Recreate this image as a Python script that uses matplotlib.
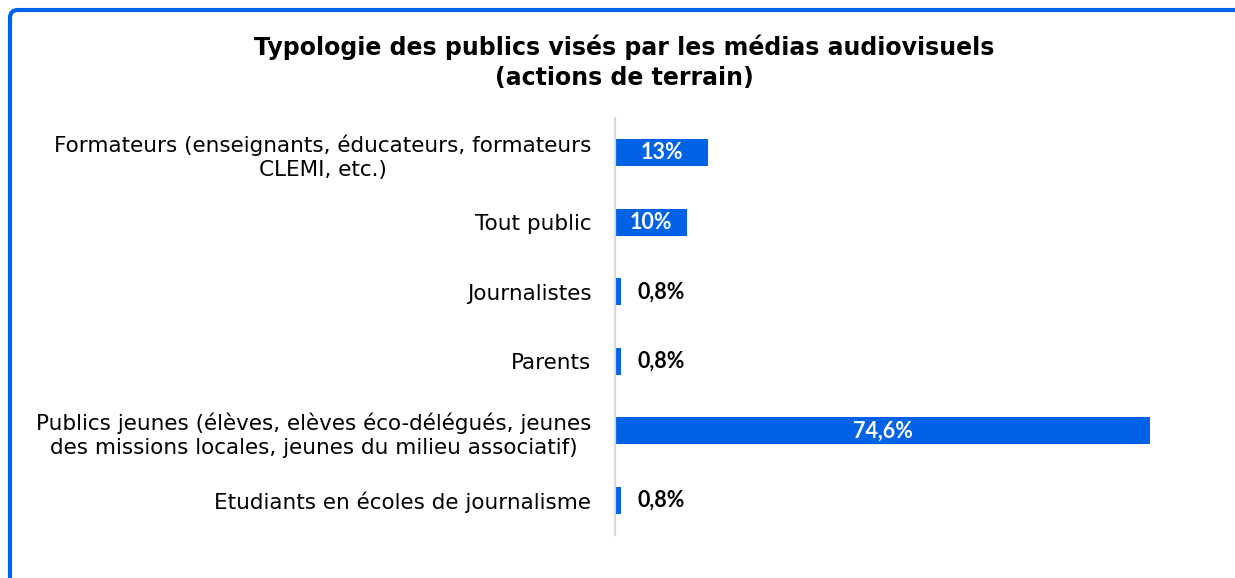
import numpy as np
import matplotlib.pyplot as plt
from matplotlib.patches import FancyBboxPatch
from matplotlib.transforms import IdentityTransform

# data
categories = [
    "Formateurs (enseignants, éducateurs, formateurs\nCLEMI, etc.)",
    "Tout public",
    "Journalistes",
    "Parents",
    "Publics jeunes (élèves, elèves éco-délégués, jeunes\ndes missions locales, jeunes du milieu associatif)",
    "Etudiants en écoles de journalisme",
]
values = [13, 10, 0.8, 0.8, 74.6, 0.8]
value_labels = ["13%", "10%", "0,8%", "0,8%", "74,6%", "0,8%"]

title = "Typologie des publics visés par les médias audiovisuels\n(actions de terrain)"
blue = "#0062E6"

W, H = 1235, 578
fig = plt.figure(figsize=(W / 100, H / 100), dpi=100)

# axes placed in pixel terms of the reference
left, right, top, bottom = 615, 1189, 118, 535
ax = fig.add_axes([left / W, 1 - bottom / H, (right - left) / W, (bottom - top) / H])

y = np.arange(len(categories))
ax.barh(y, values, height=0.39, color=blue)
ax.set_ylim(len(categories) - 0.5, -0.5)
ax.set_xlim(0, 80)

ax.set_yticks(y)
ax.set_yticklabels(categories, fontsize=15.5, family="DejaVu Sans",
                   multialignment="center", linespacing=1.3)
ax.tick_params(axis="y", length=0, pad=17)
ax.set_xticks([])
for s in ["top", "right", "bottom"]:
    ax.spines[s].set_visible(False)
ax.spines["left"].set_color("#D9D9D9")
ax.spines["left"].set_linewidth(1.6)

for i, (v, lab) in enumerate(zip(values, value_labels)):
    if v > 5:
        ax.text(v / 2, i, lab, ha="center", va="center", color="white",
                fontsize=15.5, fontweight="bold", family="Lato")
    else:
        ax.annotate(lab, (v, i), xytext=(12, 0), textcoords="offset points",
                    ha="left", va="center", color="black",
                    fontsize=15.5, fontweight="bold", family="Lato")

fig.text(624 / W, 1 - 62 / H, title, ha="center", va="center",
         fontsize=17, fontweight="bold", family="DejaVu Sans", linespacing=1.3)

# blue frame, cropped on the right and bottom
frame = FancyBboxPatch((10, -60), 1400, H - 10 + 60,
                       boxstyle="round,pad=0,rounding_size=8",
                       transform=IdentityTransform(), facecolor="none",
                       edgecolor=blue, linewidth=3)
fig.add_artist(frame)

fig.savefig("out.png", dpi=100)
